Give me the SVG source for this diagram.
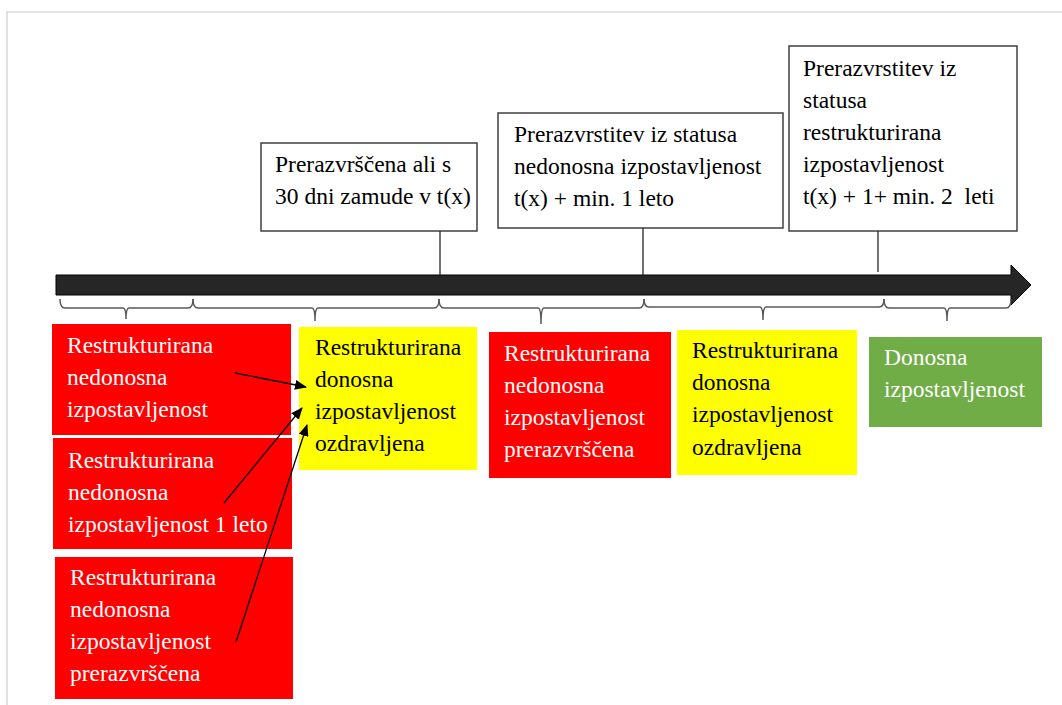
<svg xmlns="http://www.w3.org/2000/svg" width="1062" height="705" viewBox="0 0 1062 705">
<style>
  .t { font-family: "Liberation Serif", "Times New Roman", serif; font-size: 23.5px; }
  .w { fill: #ffffff; }
  .k { fill: #000000; }
  .box { fill: #ffffff; stroke: #404040; stroke-width: 1.5; }
  .red { fill: #ff0000; }
  .yel { fill: #ffff00; }
  .grn { fill: #70ad47; }
  .brace { fill: none; stroke: #595959; stroke-width: 1.5; }
  .vline { stroke: #262626; stroke-width: 1.3; fill: none; }
  .arr { stroke: #000000; stroke-width: 1.3; fill: none; marker-end: url(#ah); }
</style>
<defs>
  <marker id="ah" viewBox="0 0 12 10" refX="11" refY="5" markerWidth="12" markerHeight="10" markerUnits="userSpaceOnUse" orient="auto">
    <path d="M0,0 L12,5 L0,10 z" fill="#000000"/>
  </marker>
</defs>
<rect x="0" y="0" width="1062" height="705" fill="#ffffff"/>
<g id="frame">
  <path d="M7,705 L7,12 L1062,12" fill="none" stroke="#d9d9d9" stroke-width="1.5"/>
</g>

<g id="timeline">
  <path d="M56,275 L1011,275 L1011,265 L1031,285 L1011,305 L1011,295 L56,295 z" fill="#262626" stroke="#000000" stroke-width="1"/>
</g>

<g id="braces">
  <path class="brace" d="M60,299 Q60,308 65,308 L123,308 Q126,308 126,319 Q126,308 129,308 L188,308 Q193,308 193,299"/>
  <path class="brace" d="M193,299 Q193,308 198,308 L312,308 Q315,308 315,321 Q315,308 318,308 L434,308 Q439,308 439,299"/>
  <path class="brace" d="M439,299 Q439,308 444,308 L538,308 Q541,308 541,324 Q541,308 544,308 L639,308 Q644,308 644,299"/>
  <path class="brace" d="M644,299 Q644,307 649,307 L760,307 Q763,307 763,320 Q763,307 766,307 L879,307 Q884,307 884,299"/>
  <path class="brace" d="M884,299 Q884,308 889,308 L944,308 Q947,308 947,321 Q947,308 950,308 L1006,308 Q1011,308 1011,299"/>
</g>

<g id="event1">
  <rect class="box" x="261" y="143" width="216" height="88"/>
  <text class="t k" x="275" y="172">Prerazvrščena ali s</text>
  <text class="t k" x="275" y="204">30 dni zamude v t(x)</text>
</g>
<g id="event2">
  <rect class="box" x="498" y="113" width="285" height="115"/>
  <text class="t k" x="514" y="142">Prerazvrstitev iz statusa</text>
  <text class="t k" x="514" y="174">nedonosna izpostavljenost</text>
  <text class="t k" x="514" y="206">t(x) + min. 1 leto</text>
</g>
<g id="event3">
  <rect class="box" x="789" y="46" width="228" height="185"/>
  <text class="t k" x="803" y="76">Prerazvrstitev iz</text>
  <text class="t k" x="803" y="108">statusa</text>
  <text class="t k" x="803" y="140">restrukturirana</text>
  <text class="t k" x="803" y="172">izpostavljenost</text>
  <text class="t k" x="803" y="204" xml:space="preserve">t(x) + 1+ min. 2  leti</text>
</g>

<g id="red1">
  <rect class="red" x="52" y="324" width="239" height="111"/>
  <text class="t w" x="67" y="353">Restrukturirana</text>
  <text class="t w" x="67" y="385">nedonosna</text>
  <text class="t w" x="67" y="417">izpostavljenost</text>
</g>
<g id="red2">
  <rect class="red" x="53" y="438" width="239" height="111"/>
  <text class="t w" x="68" y="468">Restrukturirana</text>
  <text class="t w" x="68" y="500">nedonosna</text>
  <text class="t w" x="68" y="532">izpostavljenost 1 leto</text>
</g>
<g id="red3">
  <rect class="red" x="55" y="557" width="238" height="142"/>
  <text class="t w" x="70" y="585">Restrukturirana</text>
  <text class="t w" x="70" y="617">nedonosna</text>
  <text class="t w" x="70" y="649">izpostavljenost</text>
  <text class="t w" x="70" y="681">prerazvrščena</text>
</g>
<g id="yellow1">
  <rect class="yel" x="299" y="327" width="178" height="143"/>
  <text class="t k" x="315" y="355">Restrukturirana</text>
  <text class="t k" x="315" y="387">donosna</text>
  <text class="t k" x="315" y="419">izpostavljenost</text>
  <text class="t k" x="315" y="451">ozdravljena</text>
</g>
<g id="red4">
  <rect class="red" x="489" y="332" width="182" height="146"/>
  <text class="t w" x="504" y="361">Restrukturirana</text>
  <text class="t w" x="504" y="393">nedonosna</text>
  <text class="t w" x="504" y="425">izpostavljenost</text>
  <text class="t w" x="504" y="457">prerazvrščena</text>
</g>
<g id="yellow2">
  <rect class="yel" x="677" y="330" width="180" height="145"/>
  <text class="t k" x="692" y="358">Restrukturirana</text>
  <text class="t k" x="692" y="390">donosna</text>
  <text class="t k" x="692" y="422">izpostavljenost</text>
  <text class="t k" x="692" y="455">ozdravljena</text>
</g>
<g id="green">
  <rect class="grn" x="869" y="337" width="173" height="90"/>
  <text class="t w" x="884" y="365">Donosna</text>
  <text class="t w" x="884" y="397">izpostavljenost</text>
</g>

<g id="connectors">
  <line class="vline" x1="440" y1="231" x2="440" y2="275"/>
  <line class="vline" x1="643" y1="228" x2="643" y2="275"/>
  <line class="vline" x1="878" y1="231" x2="878" y2="272"/>
  <line class="arr" x1="235" y1="373" x2="306" y2="387"/>
  <line class="arr" x1="224" y1="503" x2="302" y2="408"/>
  <line class="arr" x1="236" y1="642" x2="307" y2="425"/>
</g>
</svg>
